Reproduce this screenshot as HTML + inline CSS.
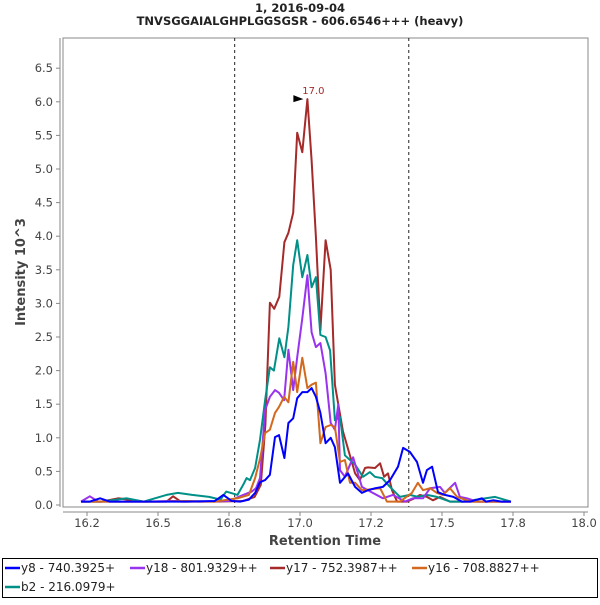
<!DOCTYPE html>
<html><head><meta charset="utf-8"><style>
body{margin:0;background:#fff;width:600px;height:600px;overflow:hidden;font-family:"Liberation Sans","DejaVu Sans",sans-serif}
svg text{font-family:"DejaVu Sans","Liberation Sans",sans-serif}
</style></head><body>
<svg id="chart" width="600" height="600">
<text x="300" y="12" text-anchor="middle" font-size="11.5" font-weight="bold" fill="#222">1, 2016-09-04</text>
<text x="300" y="25" text-anchor="middle" font-size="11.5" font-weight="bold" fill="#222">TNVSGGAIALGHPLGGSGSR - 606.6546+++ (heavy)</text>
<rect x="63" y="38" width="525" height="469" fill="#fff" stroke="#888" stroke-width="1"/>
<g id="axes"></g>
<g id="series"></g>
<text transform="translate(25,272) rotate(-90)" text-anchor="middle" font-size="13" font-weight="bold" fill="#444">Intensity  10^3</text>
<text x="325" y="545" text-anchor="middle" font-size="13" font-weight="bold" fill="#444">Retention Time</text>
<g>
<rect x="2.5" y="558.5" width="595" height="39" fill="#fff" stroke="#000" stroke-width="1"/>
<g id="legend-items"></g>
</g>
</svg>
<script>
const yTicks=[0,0.5,1,1.5,2,2.5,3,3.5,4,4.5,5,5.5,6,6.5];
const xTickVals=[16.25,16.5,16.75,17,17.25,17.5,17.75,18];
const xTickLabels=["16.2","16.5","16.8","17.0","17.2","17.5","17.8","18.0"];
const boundaryTimes=[16.77,17.383];
const peakTime=17.026, peakValue=6.04, peakLabel="17.0";
const seriesNames=["y8 - 740.3925+","y18 - 801.9329++","y17 - 752.3987++","y16 - 708.8827++","b2 - 216.0979+"];
const seriesColors=["#0000ff","#9933ee","#a52a2a","#d2691e","#009088"];
const t_y8=[16.229,16.26,16.296,16.33,16.4,16.5,16.6,16.7,16.73,16.76,16.789,16.82,16.842,16.859,16.877,16.894,16.912,16.926,16.945,16.959,16.976,16.99,17.008,17.026,17.041,17.056,17.072,17.09,17.108,17.123,17.141,17.169,17.194,17.218,17.239,17.265,17.292,17.317,17.345,17.363,17.387,17.412,17.433,17.447,17.465,17.486,17.51,17.54,17.57,17.6,17.64,17.655,17.68,17.71,17.743];
const v_y8=[0.05,0.05,0.1,0.05,0.05,0.05,0.05,0.06,0.15,0.06,0.05,0.08,0.18,0.34,0.37,0.45,1.01,1.04,0.7,1.22,1.29,1.59,1.68,1.68,1.74,1.61,1.37,0.92,1.0,0.86,0.33,0.47,0.27,0.18,0.22,0.25,0.27,0.37,0.57,0.85,0.79,0.64,0.33,0.52,0.57,0.19,0.15,0.12,0.05,0.05,0.1,0.05,0.07,0.05,0.05];
const t_y18=[16.229,16.26,16.29,16.35,16.45,16.55,16.65,16.75,16.8,16.83,16.845,16.859,16.877,16.894,16.912,16.926,16.944,16.959,16.976,16.99,17.008,17.026,17.041,17.056,17.072,17.09,17.108,17.123,17.135,17.141,17.158,17.187,17.218,17.239,17.292,17.327,17.37,17.398,17.433,17.458,17.493,17.51,17.546,17.563,17.588,17.623,17.7,17.743];
const v_y18=[0.05,0.13,0.05,0.05,0.05,0.06,0.05,0.06,0.15,0.2,0.25,0.4,1.41,1.61,1.71,1.67,1.56,2.31,1.71,2.2,2.78,3.42,2.57,2.35,2.41,1.96,1.22,1.12,1.5,0.52,0.42,0.71,0.27,0.22,0.1,0.15,0.05,0.1,0.1,0.25,0.27,0.18,0.33,0.12,0.1,0.05,0.05,0.05];
const t_y17=[16.229,16.3,16.36,16.45,16.53,16.553,16.58,16.7,16.8,16.84,16.862,16.878,16.894,16.909,16.927,16.945,16.959,16.976,16.99,17.008,17.026,17.041,17.056,17.072,17.09,17.108,17.123,17.151,17.194,17.211,17.229,17.239,17.264,17.282,17.296,17.31,17.324,17.342,17.377,17.398,17.423,17.447,17.468,17.493,17.528,17.6,17.7,17.743];
const v_y17=[0.05,0.05,0.1,0.05,0.05,0.13,0.05,0.05,0.06,0.12,0.3,1.2,3.01,2.92,3.1,3.91,4.05,4.35,5.54,5.25,6.04,5.13,3.99,2.6,3.94,3.5,1.79,1.1,0.47,0.37,0.55,0.56,0.55,0.62,0.42,0.47,0.22,0.05,0.05,0.09,0.15,0.12,0.07,0.12,0.05,0.05,0.05,0.05];
const t_y16=[16.229,16.3,16.4,16.5,16.6,16.7,16.78,16.82,16.842,16.86,16.877,16.894,16.912,16.926,16.944,16.959,16.976,16.99,17.008,17.026,17.041,17.056,17.072,17.09,17.108,17.123,17.141,17.158,17.176,17.194,17.218,17.282,17.306,17.352,17.394,17.415,17.433,17.458,17.482,17.503,17.528,17.553,17.6,17.7,17.743];
const v_y16=[0.05,0.05,0.05,0.05,0.06,0.05,0.1,0.15,0.4,0.7,1.07,1.12,1.37,1.46,1.61,1.53,2.13,1.68,2.19,1.74,1.79,1.82,0.92,1.16,1.19,1.16,0.64,0.67,0.33,0.33,0.22,0.25,0.05,0.05,0.18,0.33,0.22,0.25,0.18,0.15,0.25,0.12,0.05,0.05,0.05];
const t_b2=[16.229,16.3,16.39,16.45,16.53,16.57,16.62,16.68,16.72,16.74,16.78,16.8,16.812,16.824,16.842,16.859,16.877,16.894,16.908,16.927,16.945,16.959,16.976,16.99,17.008,17.026,17.041,17.056,17.072,17.09,17.106,17.123,17.141,17.158,17.194,17.222,17.246,17.264,17.289,17.317,17.352,17.387,17.415,17.447,17.482,17.528,17.574,17.687,17.743];
const v_b2=[0.05,0.05,0.1,0.05,0.15,0.18,0.15,0.12,0.08,0.2,0.15,0.3,0.4,0.37,0.55,0.97,1.56,2.05,2.0,2.48,2.2,2.65,3.57,3.94,3.39,3.72,3.24,3.39,2.53,2.5,2.3,1.26,1.31,0.74,0.6,0.42,0.49,0.42,0.4,0.27,0.12,0.15,0.12,0.15,0.12,0.05,0.05,0.12,0.05];
const seriesT=[t_y8,t_y18,t_y17,t_y16,t_b2];
const seriesV=[v_y8,v_y18,v_y17,v_y16,v_b2];

const NS="http://www.w3.org/2000/svg";
function X(t){return 300+(t-17)*284;}
function Y(v){return 505-v*67.2;}
function mk(tag,attrs,parent){const e=document.createElementNS(NS,tag);for(const k in attrs)e.setAttribute(k,attrs[k]);parent.appendChild(e);return e;}
const axes=document.getElementById('axes');
const ya=mk('line',{x1:60,y1:38,x2:60,y2:507,stroke:'#888'},axes);


yTicks.forEach(v=>{
  const tk=mk('line',{x1:56,x2:60,y1:Y(v),y2:Y(v),stroke:'#888'},axes);
  
  
  const tx=mk('text',{x:53,y:Y(v)+4,'text-anchor':'end','font-size':'11.5',fill:'#444'},axes);
  tx.textContent=v.toFixed(1);
  
  
});
const xa=mk('line',{x1:63,y1:512,x2:588,y2:512,stroke:'#888'},axes);


xTickVals.forEach((t,i)=>{
  const tk=mk('line',{x1:X(t),x2:X(t),y1:512,y2:516,stroke:'#888'},axes);
  
  
  const tx=mk('text',{x:X(t),y:527,'text-anchor':'middle','font-size':'11.5',fill:'#444'},axes);
  tx.textContent=xTickLabels[i];
  
  
});
const sg=document.getElementById('series');
boundaryTimes.forEach(t=>{
  const l=mk('line',{x1:X(t),x2:X(t),y1:38,y2:507,stroke:'#222','stroke-dasharray':'3,3'},sg);
  
  
});
[2,4,1,3,0].forEach(i=>{
  const pts=seriesT[i].map((t,j)=>X(t).toFixed(1)+','+Y(seriesV[i][j]).toFixed(1)).join(' ');
  const p=mk('polyline',{points:pts,fill:'none',stroke:seriesColors[i],'stroke-width':2,'stroke-linejoin':'round'},sg);
  
  
});
const px=X(peakTime),py=Y(peakValue);
const ar=mk('polygon',{points:`${px-14},${py-4} ${px-4},${py} ${px-14},${py+3}`,fill:'#000'},sg);


const pl=mk('text',{x:px+6,y:py-5,'text-anchor':'middle','font-size':'10',fill:'#a52a2a'},sg);
pl.textContent=peakLabel;


const lg=document.getElementById('legend-items');
const lx=[5,130,270,412,5],ly=[572,572,572,572,591];
seriesNames.forEach((n,i)=>{
  const g=mk('g',{},lg);
  
  
  mk('line',{x1:lx[i],x2:lx[i]+15,y1:ly[i]-4,y2:ly[i]-4,stroke:seriesColors[i],'stroke-width':2.5},g);
  const t=mk('text',{x:lx[i]+16,y:ly[i],'font-size':'12',fill:'#222'},g);
  t.textContent=n;
});
</script>
</body></html>
